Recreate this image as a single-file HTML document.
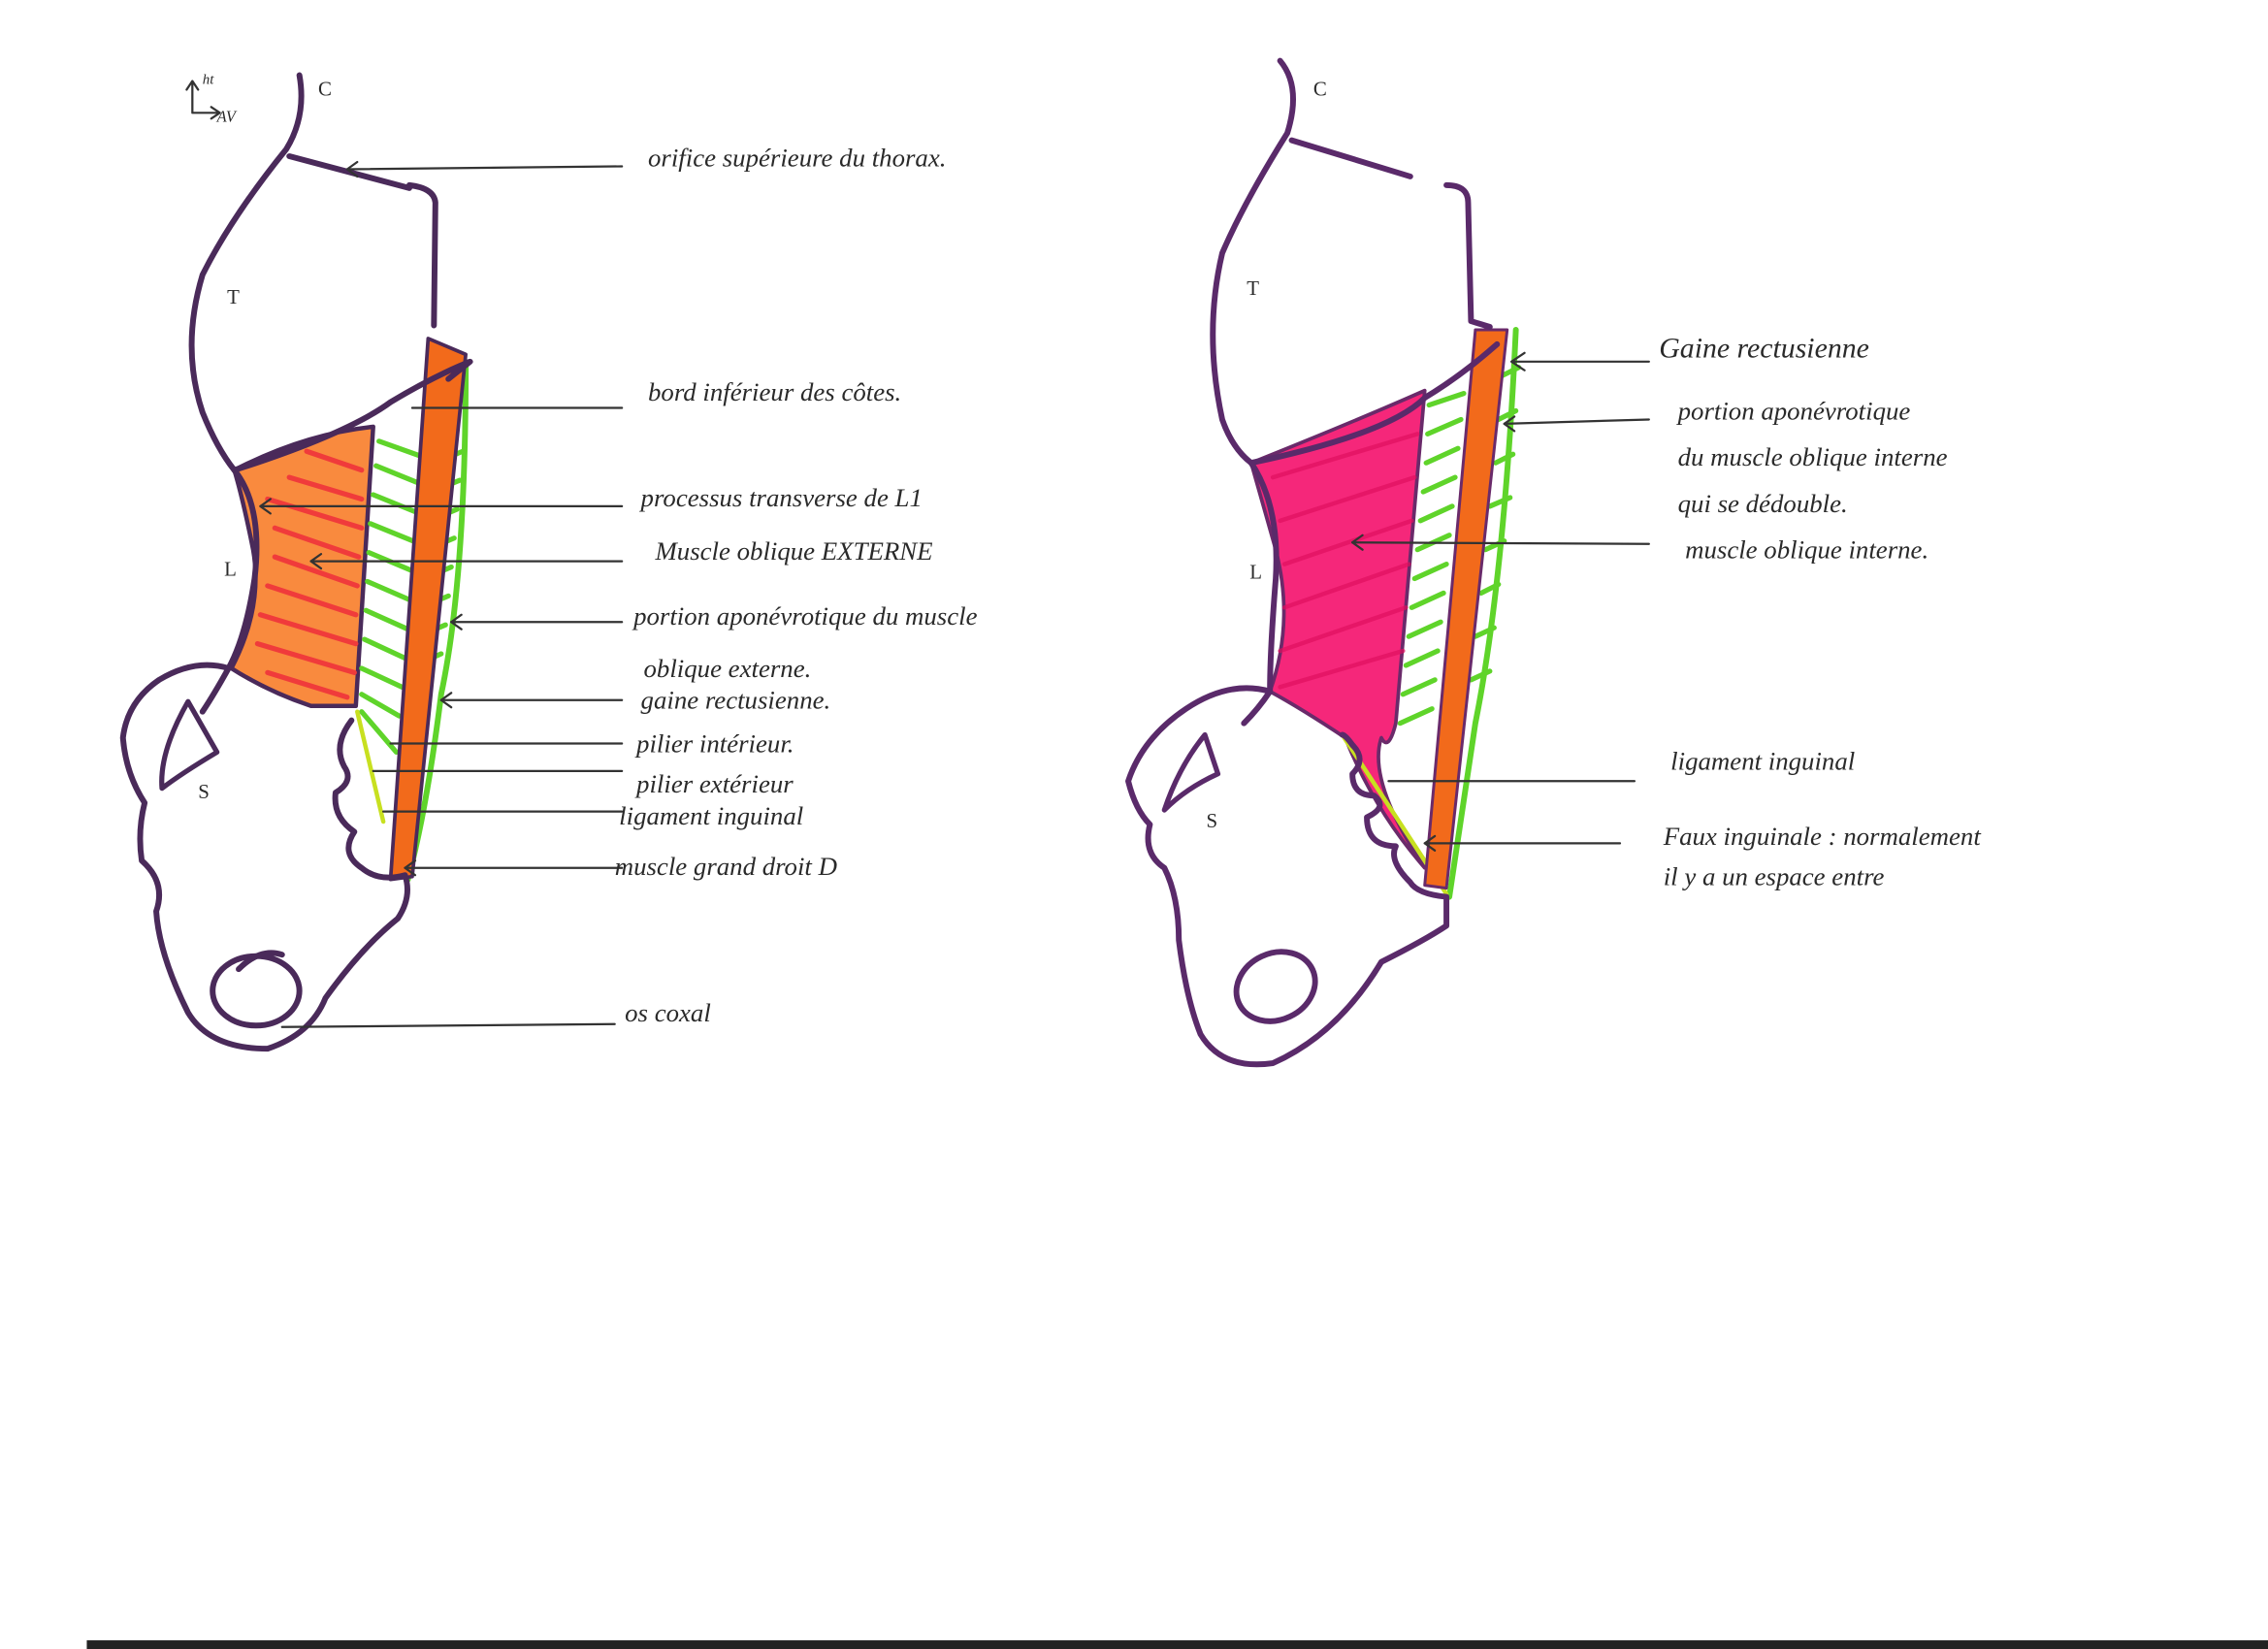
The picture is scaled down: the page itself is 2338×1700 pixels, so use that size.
<!DOCTYPE html>
<html><head><meta charset="utf-8"><style>
html,body{margin:0;padding:0;background:#fff;}
svg{display:block}
text{font-family:"Liberation Serif",serif;font-style:italic;fill:#2a2a2a;}
</style></head><body>
<svg width="2338" height="1700" viewBox="0 0 1568 1140" preserveAspectRatio="none" xmlns="http://www.w3.org/2000/svg">
<rect width="1568" height="1140" fill="#fff"/>
<rect x="60" y="1134" width="1508" height="6" fill="#222"/>

<!-- ===== LEFT DIAGRAM ===== -->
<g fill="none" stroke-linecap="round" stroke-linejoin="round">
<path d="M162,325 Q210,300 258,295 L246,488 L215,488 Q185,478 160,462 Q182,420 175,380 Q168,345 162,325Z" fill="#f98a3e" stroke="#4a2a5a" stroke-width="3"/>
<g stroke="#f03b3b" stroke-width="3.5">
<line x1="212" y1="312" x2="250" y2="325"/><line x1="200" y1="330" x2="250" y2="345"/>
<line x1="185" y1="345" x2="250" y2="365"/><line x1="190" y1="365" x2="248" y2="385"/>
<line x1="190" y1="385" x2="247" y2="405"/><line x1="185" y1="405" x2="246" y2="425"/>
<line x1="180" y1="425" x2="246" y2="445"/><line x1="178" y1="445" x2="245" y2="465"/>
<line x1="185" y1="465" x2="240" y2="482"/>
</g>
<g stroke="#5fd42a" stroke-width="3.5">
<line x1="262" y1="305" x2="290" y2="315"/><line x1="260" y1="322" x2="292" y2="335"/>
<line x1="258" y1="342" x2="290" y2="355"/><line x1="256" y1="362" x2="288" y2="375"/>
<line x1="255" y1="382" x2="286" y2="395"/><line x1="254" y1="402" x2="284" y2="415"/>
<line x1="253" y1="422" x2="282" y2="435"/><line x1="252" y1="442" x2="280" y2="455"/>
<line x1="250" y1="462" x2="278" y2="475"/><line x1="250" y1="480" x2="276" y2="495"/>
<line x1="250" y1="492" x2="274" y2="520"/>
<line x1="300" y1="320" x2="320" y2="312"/><line x1="298" y1="340" x2="318" y2="332"/>
<line x1="297" y1="360" x2="316" y2="352"/><line x1="295" y1="380" x2="314" y2="372"/>
<line x1="293" y1="400" x2="312" y2="392"/><line x1="291" y1="420" x2="310" y2="412"/>
<line x1="289" y1="440" x2="308" y2="432"/><line x1="287" y1="460" x2="305" y2="452"/>
<path d="M322,250 Q322,400 305,480 Q295,560 282,608" stroke-width="4"/>
</g>
<line x1="247" y1="492" x2="265" y2="568" stroke="#c8e020" stroke-width="3"/>
<path d="M296,234 L322,245 L285,606 L270,608 Z" fill="#f26a1b" stroke="#4a2a5a" stroke-width="2.5"/>
<g stroke="#4a2a5a" stroke-width="4">
<path d="M207,52 Q212,80 198,103 Q160,150 140,190 Q125,240 140,285 Q150,310 162,325"/>
<path d="M162,325 Q182,350 176,400 Q170,440 158,462 Q148,480 140,492"/>
<path d="M200,108 L283,130"/>
<path d="M283,128 Q300,130 301,140 L300,225"/>
<path d="M162,325 Q240,300 270,278 Q300,260 325,250 L310,262"/>
<path d="M158,462 Q135,455 110,470 Q88,485 85,510 Q87,535 100,555 Q95,575 98,595 Q115,610 108,630 Q110,660 130,700 Q145,725 185,725 Q215,715 225,690 Q250,655 275,635 Q285,620 280,605 Q262,610 250,600 Q235,590 245,575 Q230,565 232,548 Q245,540 238,530 Q230,515 243,498"/>
<ellipse cx="177" cy="685" rx="30" ry="24"/>
<path d="M195,660 Q180,655 165,670"/>
<path d="M130,485 L150,520 Q125,535 112,545 Q110,520 130,485Z" stroke-width="3.5"/>
</g>
<g stroke="#333" stroke-width="1.5">
<line x1="240" y1="117" x2="430" y2="115"/><path d="M247,112 L240,117 L247,122"/>
<line x1="285" y1="282" x2="430" y2="282"/>
<line x1="180" y1="350" x2="430" y2="350"/><path d="M187,345 L180,350 L187,355"/>
<line x1="215" y1="388" x2="430" y2="388"/><path d="M222,383 L215,388 L222,393"/>
<line x1="312" y1="430" x2="430" y2="430"/><path d="M319,425 L312,430 L319,435"/>
<line x1="305" y1="484" x2="430" y2="484"/><path d="M312,479 L305,484 L312,489"/>
<line x1="270" y1="514" x2="430" y2="514"/>
<line x1="258" y1="533" x2="430" y2="533"/>
<line x1="265" y1="561" x2="430" y2="561"/>
<line x1="280" y1="600" x2="430" y2="600"/><path d="M287,595 L280,600 L287,605"/>
<line x1="195" y1="710" x2="425" y2="708"/>
<path d="M133,78 L133,58 M129,62 L133,56 L137,62 M133,78 L150,78 M146,74 L152,78 L146,82"/>
</g>
</g>
<g font-size="18">
<text x="220" y="66" font-size="14" style="font-style:normal">C</text>
<text x="140" y="58" font-size="10">ht</text><text x="150" y="84" font-size="11">AV</text>
<text x="157" y="210" font-size="14" style="font-style:normal">T</text>
<text x="155" y="398" font-size="14" style="font-style:normal">L</text>
<text x="137" y="552" font-size="14" style="font-style:normal">S</text>
<text x="448" y="115">orifice supérieure du thorax.</text>
<text x="448" y="277">bord inférieur des côtes.</text>
<text x="443" y="350">processus transverse de L1</text>
<text x="453" y="387">Muscle oblique EXTERNE</text>
<text x="438" y="432">portion aponévrotique du muscle</text>
<text x="445" y="468">oblique externe.</text>
<text x="443" y="490">gaine rectusienne.</text>
<text x="440" y="520">pilier intérieur.</text>
<text x="440" y="548">pilier extérieur</text>
<text x="428" y="570">ligament inguinal</text>
<text x="425" y="605">muscle grand droit D</text>
<text x="432" y="706">os coxal</text>
</g>

<!-- ===== RIGHT DIAGRAM ===== -->
<g fill="none" stroke-linecap="round" stroke-linejoin="round">
<path d="M865,320 Q940,290 985,270 L965,500 Q960,520 955,510 Q945,540 985,600 Q950,560 930,510 Q900,490 878,478 Q895,430 882,380 Q872,345 865,320Z" fill="#f5277a" stroke="#6a2a6a" stroke-width="2.5"/>
<g stroke="#e0105f" stroke-width="3" opacity="0.7">
<line x1="880" y1="330" x2="980" y2="300"/><line x1="885" y1="360" x2="978" y2="330"/>
<line x1="888" y1="390" x2="976" y2="360"/><line x1="888" y1="420" x2="974" y2="390"/>
<line x1="885" y1="450" x2="972" y2="420"/><line x1="885" y1="475" x2="970" y2="450"/>
</g>
<g stroke="#5fd42a" stroke-width="3.5">
<line x1="988" y1="280" x2="1012" y2="272"/><line x1="987" y1="300" x2="1010" y2="290"/>
<line x1="986" y1="320" x2="1008" y2="310"/><line x1="984" y1="340" x2="1006" y2="330"/>
<line x1="982" y1="360" x2="1004" y2="350"/><line x1="980" y1="380" x2="1002" y2="370"/>
<line x1="978" y1="400" x2="1000" y2="390"/><line x1="976" y1="420" x2="998" y2="410"/>
<line x1="974" y1="440" x2="996" y2="430"/><line x1="972" y1="460" x2="994" y2="450"/>
<line x1="970" y1="480" x2="992" y2="470"/><line x1="968" y1="500" x2="990" y2="490"/>
<line x1="1038" y1="260" x2="1050" y2="254"/><line x1="1036" y1="290" x2="1048" y2="284"/>
<line x1="1034" y1="320" x2="1046" y2="314"/><line x1="1030" y1="350" x2="1044" y2="344"/>
<line x1="1027" y1="380" x2="1040" y2="374"/><line x1="1024" y1="410" x2="1036" y2="404"/>
<line x1="1020" y1="440" x2="1033" y2="434"/><line x1="1017" y1="470" x2="1030" y2="464"/>
<path d="M1048,228 Q1040,400 1020,500 Q1008,580 1002,620" stroke-width="4"/>
</g>
<line x1="928" y1="508" x2="1000" y2="618" stroke="#c8e020" stroke-width="3"/>
<path d="M1020,228 L1042,228 L1000,614 L985,612 Z" fill="#f26a1b" stroke="#6a2a6a" stroke-width="2"/>
<g stroke="#5a2a6a" stroke-width="4">
<path d="M885,42 Q900,60 890,92 Q860,140 845,175 Q832,230 845,290 Q852,310 865,320"/>
<path d="M865,320 Q885,350 882,400 Q878,450 878,478 Q870,490 860,500"/>
<path d="M893,97 L975,122"/>
<path d="M1000,128 Q1015,128 1015,140 L1017,222 L1030,226"/>
<path d="M865,320 Q960,300 985,275 Q1010,260 1035,238"/>
<path d="M878,478 Q850,470 820,490 Q790,510 780,540 Q785,560 795,570 Q790,590 805,600 Q815,620 815,650 Q820,690 830,715 Q845,740 880,735 Q925,715 955,665 Q985,650 1000,640 L1000,620 Q980,618 975,610 Q960,595 965,585 Q945,585 945,565 Q960,558 950,550 Q935,550 935,535 Q945,525 935,515 Q930,508 928,508"/>
<ellipse cx="882" cy="682" rx="28" ry="23" transform="rotate(-25 882 682)"/>
<path d="M833,508 L842,535 Q820,545 805,560 Q815,530 833,508Z" stroke-width="3.5"/>
</g>
<g stroke="#333" stroke-width="1.5">
<line x1="1045" y1="250" x2="1140" y2="250"/><path d="M1054,244 L1045,250 L1054,256"/>
<line x1="1040" y1="293" x2="1140" y2="290"/><path d="M1047,288 L1040,293 L1047,298"/>
<line x1="935" y1="375" x2="1140" y2="376"/><path d="M942,370 L935,375 L942,380"/>
<line x1="960" y1="540" x2="1130" y2="540"/>
<line x1="985" y1="583" x2="1120" y2="583"/><path d="M992,578 L985,583 L992,588"/>
</g>
</g>
<g font-size="18">
<text x="908" y="66" font-size="14" style="font-style:normal">C</text>
<text x="862" y="204" font-size="14" style="font-style:normal">T</text>
<text x="864" y="400" font-size="14" style="font-style:normal">L</text>
<text x="834" y="572" font-size="14" style="font-style:normal">S</text>
<text x="1147" y="247" font-size="20">Gaine rectusienne</text>
<text x="1160" y="290">portion aponévrotique</text>
<text x="1160" y="322">du muscle oblique interne</text>
<text x="1160" y="354">qui se dédouble.</text>
<text x="1165" y="386">muscle oblique interne.</text>
<text x="1155" y="532">ligament inguinal</text>
<text x="1150" y="584">Faux inguinale : normalement</text>
<text x="1150" y="612">il y a un espace entre</text>
</g>
</svg>
</body></html>
